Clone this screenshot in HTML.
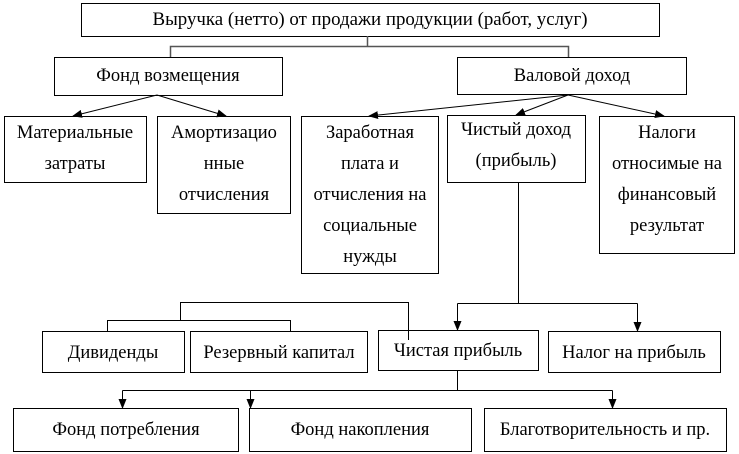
<!DOCTYPE html>
<html><head><meta charset="utf-8"><style>
html,body{margin:0;padding:0;background:#fff;}
svg{display:block;}
text{font-family:"Liberation Serif","DejaVu Serif",serif;font-size:18.5px;fill:#000;text-anchor:middle;}
</style></head><body>
<svg width="739" height="454" viewBox="0 0 739 454" xmlns="http://www.w3.org/2000/svg">
<defs><marker id="a" markerWidth="10" markerHeight="10" refX="9" refY="5" orient="auto" markerUnits="userSpaceOnUse"><path d="M0,1 L10,5 L0,9 z" fill="#000"/></marker></defs>
<g fill="none" stroke="#000" stroke-width="1">
<rect x="81.5" y="3.5" width="578" height="33"/>
<rect x="54.5" y="57.5" width="228" height="38"/>
<rect x="457.5" y="57.5" width="229" height="37"/>
<rect x="4.5" y="116.5" width="142" height="66"/>
<rect x="157.5" y="116.5" width="133" height="97"/>
<rect x="301.5" y="116.5" width="137" height="157"/>
<rect x="447.5" y="115.5" width="138" height="67"/>
<rect x="599.5" y="116.5" width="135" height="137"/>
<rect x="42.5" y="331.5" width="142" height="41"/>
<rect x="190.5" y="331.5" width="177" height="41"/>
<rect x="378.5" y="330.5" width="160" height="40"/>
<rect x="548.5" y="331.5" width="172" height="41"/>
<rect x="13.5" y="408.5" width="225" height="43"/>
<rect x="249.5" y="408.5" width="222" height="43"/>
<rect x="484.5" y="408.5" width="242" height="43"/>
<path d="M367.5,36 V46.5 M170.5,57 V46.5 H568.5 V57" stroke="#555" stroke-width="1.5"/>
<path d="M157,95 L73,116" marker-end="url(#a)"/>
<path d="M157,95 L226,116" marker-end="url(#a)"/>
<path d="M568,95 L369,116" marker-end="url(#a)"/>
<path d="M568,95 L516,115" marker-end="url(#a)"/>
<path d="M568,95 L664,116" marker-end="url(#a)"/>
<path d="M518.5,182 V303.5 M457.5,303.5 H637.5"/>
<path d="M457.5,303.5 V330" marker-end="url(#a)"/>
<path d="M637.5,303.5 V331" marker-end="url(#a)"/>
<path d="M408.5,340 V302.5 H180.5 V320.5 M107.5,331 V320.5 H290.5 V331"/>
<path d="M457.5,371 V390.5 H122.5"/>
<path d="M122.5,390.5 V408" marker-end="url(#a)"/>
<path d="M457.5,390.5 H612.5"/>
<path d="M250.5,390.5 V408" marker-end="url(#a)"/>
<path d="M612.5,390.5 V408" marker-end="url(#a)"/>
</g>
<text x="370" y="25" textLength="435" lengthAdjust="spacingAndGlyphs">Выручка (нетто) от продажи продукции (работ, услуг)</text>
<text x="168" y="81">Фонд возмещения</text>
<text x="572" y="81">Валовой доход</text>
<text x="75" y="138">Материальные</text>
<text x="75" y="169">затраты</text>
<text x="224" y="138">Амортизацио</text>
<text x="224" y="169">нные</text>
<text x="224" y="200">отчисления</text>
<text x="370" y="138">Заработная</text>
<text x="370" y="169">плата и</text>
<text x="370" y="200">отчисления на</text>
<text x="370" y="231">социальные</text>
<text x="370" y="262">нужды</text>
<text x="516" y="135">Чистый доход</text>
<text x="516" y="166">(прибыль)</text>
<text x="667" y="138">Налоги</text>
<text x="667" y="169">относимые на</text>
<text x="667" y="200">финансовый</text>
<text x="667" y="231">результат</text>
<text x="113" y="358">Дивиденды</text>
<text x="279" y="358">Резервный капитал</text>
<text x="458" y="356">Чистая прибыль</text>
<text x="634" y="358">Налог на прибыль</text>
<text x="126" y="435">Фонд потребления</text>
<text x="360" y="435">Фонд накопления</text>
<text x="605" y="435">Благотворительность и пр.</text>
</svg>
</body></html>
